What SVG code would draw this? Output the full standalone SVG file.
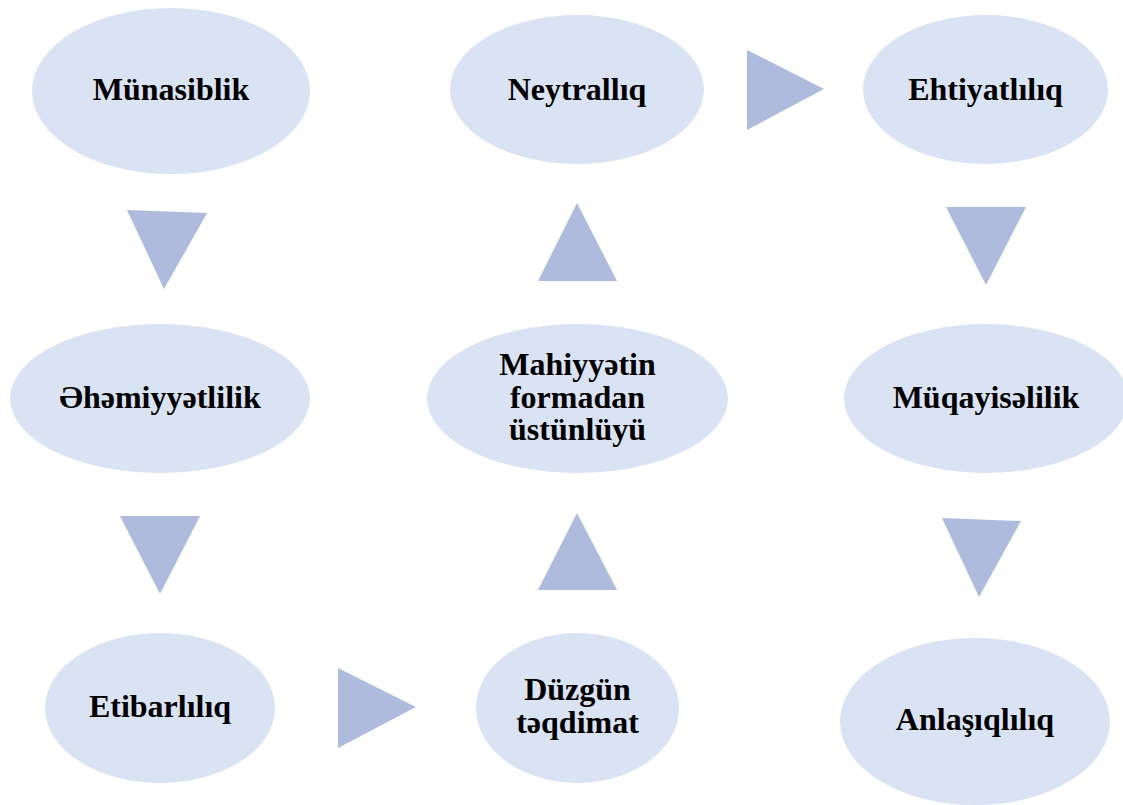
<svg xmlns="http://www.w3.org/2000/svg" width="1123" height="805" viewBox="0 0 1123 805">
<style>
.n{fill:#DAE3F3}
.t{font-family:"Liberation Serif","Times New Roman",serif;font-weight:bold;font-size:32px;fill:#000;text-anchor:middle}
.a{fill:#AFBBDD}
</style>
<rect width="1123" height="805" fill="#fff"/>
<g id="connectors">
<polygon class="a" points="127,210 207,213 164,289"/>
<polygon class="a" points="120,516 200,516 160,594"/>
<polygon class="a" points="338,668 338,748 416,707"/>
<polygon class="a" points="577,513 538,590 617,590"/>
<polygon class="a" points="577,203 538,281 617,281"/>
<polygon class="a" points="747,50 747,130 824,89"/>
<polygon class="a" points="946,207 1026,207 986,285"/>
<polygon class="a" points="942,518 1021,521 979,597"/>
</g>
<g id="n1"><ellipse class="n" cx="171" cy="91" rx="139" ry="83"/><text class="t" x="171" y="100">Münasiblik</text></g>
<g id="n2"><ellipse class="n" cx="160" cy="398.5" rx="150" ry="74.5"/><text class="t" x="160" y="408">Əhəmiyyətlilik</text></g>
<g id="n3"><ellipse class="n" cx="160" cy="708" rx="115" ry="75"/><text class="t" x="160" y="717">Etibarlılıq</text></g>
<g id="n4"><ellipse class="n" cx="577.5" cy="708" rx="101.5" ry="75"/><text class="t" x="577.5" y="700">Düzgün</text><text class="t" x="577.5" y="733">təqdimat</text></g>
<g id="n5"><ellipse class="n" cx="577.5" cy="398.5" rx="150.5" ry="74.5"/><text class="t" x="577.5" y="375">Mahiyyətin</text><text class="t" x="577.5" y="408">formadan</text><text class="t" x="577.5" y="440">üstünlüyü</text></g>
<g id="n6"><ellipse class="n" cx="577" cy="89.5" rx="127" ry="74.5"/><text class="t" x="577" y="100">Neytrallıq</text></g>
<g id="n7"><ellipse class="n" cx="985.5" cy="89.5" rx="122.5" ry="74.5"/><text class="t" x="985.5" y="100">Ehtiyatlılıq</text></g>
<g id="n8"><ellipse class="n" cx="986" cy="398.5" rx="142" ry="74.5"/><text class="t" x="986" y="408">Müqayisəlilik</text></g>
<g id="n9"><ellipse class="n" cx="975" cy="721.5" rx="135" ry="83.5"/><text class="t" x="975" y="730">Anlaşıqlılıq</text></g>
</svg>
